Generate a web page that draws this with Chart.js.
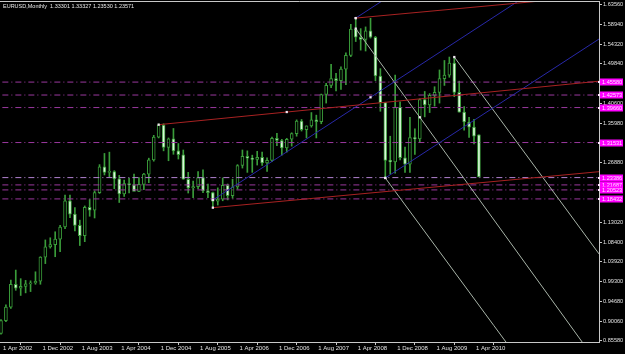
<!DOCTYPE html>
<html>
<head>
<meta charset="utf-8">
<script src="https://cdn.jsdelivr.net/npm/chart.js@4.4.0/dist/chart.umd.min.js"></script>
<style>
  html, body { margin: 0; padding: 0; background: #000; }
  #wrap { width: 625px; height: 354px; }
</style>
</head>
<body>
<div id="wrap"><canvas id="graficoEurusd" width="625" height="354"></canvas></div>
<script>
// ---- data: EURUSD monthly candles, index 0 = Apr 2002 ... 97 = May 2010

const opens = [
  0.8720, 0.9015, 0.9330, 0.9860, 0.9770, 0.9810, 0.9870, 0.9890, 0.9930,
  1.0490, 1.0730, 1.0780, 1.0910, 1.1190, 1.1800, 1.1490, 1.1230, 1.0990, 1.1650, 1.1580, 1.1990,
  1.2590, 1.2460, 1.2480, 1.2310, 1.1960, 1.2200, 1.2170, 1.2020, 1.2180, 1.2420, 1.2750, 1.3280,
  1.3560, 1.3040, 1.3240, 1.2960, 1.2870, 1.2300, 1.2100, 1.2130, 1.2340, 1.2030, 1.1990, 1.1790,
  1.1840, 1.2160, 1.1920, 1.2120, 1.2620, 1.2830, 1.2790, 1.2760, 1.2810, 1.2680, 1.2740, 1.3250,
  1.3200, 1.3030, 1.3230, 1.3360, 1.3650, 1.3450, 1.3540, 1.3680, 1.3640, 1.4270, 1.4480, 1.4640,
  1.4590, 1.4860, 1.5180, 1.5790, 1.5600, 1.5550, 1.5750, 1.5600, 1.4700, 1.4080, 1.2740, 1.2700,
  1.3970, 1.2800, 1.2650, 1.3270, 1.3240, 1.4150, 1.4030, 1.4250, 1.4320, 1.4640, 1.4720, 1.5000,
  1.4320, 1.3860, 1.3630, 1.3510, 1.3330
];
const highs = [
  0.9040, 0.9380, 0.9960, 1.0190, 0.9990, 0.9950, 0.9940, 1.0150, 1.0500,
  1.0890, 1.0940, 1.1080, 1.1230, 1.1930, 1.1930, 1.1640, 1.1350, 1.1680, 1.1830, 1.2030, 1.2640,
  1.2900, 1.2930, 1.2500, 1.2390, 1.2280, 1.2320, 1.2420, 1.2340, 1.2440, 1.2790, 1.3320, 1.3585,
  1.3590, 1.3260, 1.3480, 1.3130, 1.2980, 1.2460, 1.2260, 1.2480, 1.2520, 1.2190, 1.2000, 1.2100,
  1.2330, 1.2190, 1.2300, 1.2640, 1.2980, 1.2960, 1.2860, 1.2950, 1.2930, 1.2800, 1.3280, 1.3370,
  1.3230, 1.3250, 1.3380, 1.3680, 1.3690, 1.3540, 1.3850, 1.3790, 1.4280, 1.4530, 1.4970, 1.4760,
  1.4910, 1.5240, 1.5900, 1.6045, 1.5800, 1.5840, 1.6040, 1.5620, 1.4870, 1.4090, 1.3300, 1.4720,
  1.4100, 1.3050, 1.3740, 1.3470, 1.4170, 1.4340, 1.4290, 1.4450, 1.4840, 1.5060, 1.5140, 1.5140,
  1.4580, 1.3990, 1.3740, 1.3690, 1.3333
];
const lows = [
  0.8700, 0.8990, 0.9300, 0.9720, 0.9600, 0.9660, 0.9690, 0.9860, 0.9860,
  1.0340, 1.0700, 1.0500, 1.0620, 1.1150, 1.1410, 1.1100, 1.0760, 1.0850, 1.1440, 1.1400, 1.1970,
  1.2400, 1.2360, 1.2080, 1.1760, 1.1900, 1.1980, 1.2030, 1.2010, 1.2060, 1.2220, 1.2720, 1.3260,
  1.2960, 1.2730, 1.2880, 1.2770, 1.2300, 1.1980, 1.1870, 1.2080, 1.1990, 1.1870, 1.1640, 1.1700,
  1.1800, 1.1820, 1.1860, 1.2070, 1.2560, 1.2460, 1.2460, 1.2630, 1.2620, 1.2480, 1.2710, 1.3080,
  1.2860, 1.2930, 1.3070, 1.3300, 1.3420, 1.3260, 1.3510, 1.3260, 1.3590, 1.4070, 1.4430, 1.4350,
  1.4390, 1.4500, 1.5150, 1.5500, 1.5300, 1.5280, 1.5580, 1.4590, 1.3880, 1.2330, 1.2420, 1.2440,
  1.2750, 1.2460, 1.2460, 1.2880, 1.3160, 1.3750, 1.3850, 1.4000, 1.4070, 1.4480, 1.4670, 1.4220,
  1.3860, 1.3440, 1.3270, 1.3120, 1.2353
];
const closes = [
  0.9015, 0.9330, 0.9860, 0.9770, 0.9810, 0.9870, 0.9890, 0.9930, 1.0490,
  1.0730, 1.0780, 1.0910, 1.1190, 1.1800, 1.1490, 1.1230, 1.0990, 1.1650, 1.1580, 1.1990, 1.2590,
  1.2460, 1.2480, 1.2310, 1.1960, 1.2200, 1.2170, 1.2020, 1.2180, 1.2420, 1.2750, 1.3280, 1.3560,
  1.3040, 1.3240, 1.2960, 1.2870, 1.2300, 1.2100, 1.2130, 1.2340, 1.2030, 1.1990, 1.1790, 1.1840,
  1.2160, 1.1920, 1.2120, 1.2620, 1.2830, 1.2790, 1.2760, 1.2810, 1.2680, 1.2740, 1.3250, 1.3200,
  1.3030, 1.3230, 1.3360, 1.3650, 1.3450, 1.3540, 1.3680, 1.3640, 1.4270, 1.4480, 1.4640, 1.4590,
  1.4860, 1.5180, 1.5790, 1.5600, 1.5550, 1.5750, 1.5600, 1.4700, 1.4080, 1.2740, 1.2700, 1.3970,
  1.2800, 1.2650, 1.3270, 1.3240, 1.4150, 1.4030, 1.4250, 1.4320, 1.4640, 1.4720, 1.5000, 1.4320,
  1.3860, 1.3630, 1.3510, 1.3300, 1.2357
];

// x axis labels (month index where they sit)
const xTickIndex = [0, 8, 16, 24, 32, 40, 48, 56, 64, 72, 80, 88, 96];
const xTickLabels = ['1 Apr 2002', '1 Dec 2002', '1 Aug 2003', '1 Apr 2004', '1 Dec 2004', '1 Aug 2005',
  '1 Apr 2006', '1 Dec 2006', '1 Aug 2007', '1 Apr 2008', '1 Dec 2008', '1 Aug 2009', '1 Apr 2010'];

// price scale labels
const yTickValues = [1.63560, 1.58940, 1.54320, 1.49840, 1.40600, 1.35980, 1.26880,
  1.13020, 1.08400, 1.03920, 0.99300, 0.94680, 0.90060, 0.85580];

// horizontal lines (dash dot, magenta)
const levels = [1.45580, 1.42573, 1.39660, 1.31531, 1.23386, 1.21687, 1.20523, 1.18432];

// trend lines: two anchors [month index, price]
const redLines = [
  [[72, 1.6045], [108, 1.6426]],
  [[32, 1.3568], [58, 1.3862]],
  [[43, 1.1640], [121.4, 1.2476]]
];
const blueLines = [
  [[43, 1.1818], [75, 1.4204]],
  [[78, 1.2330], [121.4, 1.5560]],
  [[72, 1.6045], [80, 1.6640]]
];
const whiteLines = [
  [[72, 1.5800], [85, 1.3740]],
  [[78, 1.2330], [100, 0.8905]],
  [[92, 1.5140], [121.4, 1.0562]]
];

const titleText = 'EURUSD,Monthly  1.33301 1.33327 1.23530 1.23571';


// ---- helpers

const fonte = "'Liberation Sans', sans-serif";
const green = '#3a9c3a';

// extend a trend line past its second anchor (MT4 ray)
function ray(a, b) {
    const slope = (b[1] - a[1]) / (b[0] - a[0]);
    const xEnd = 140;
    return [
        { x: a[0], y: a[1] },
        { x: b[0], y: b[1] },
        { x: xEnd, y: a[1] + slope * (xEnd - a[0]) }
    ];
}

function trendDataset(line, color, markSecond) {
    return {
        type: 'line',
        data: ray(line[0], line[1]),
        borderColor: color,
        borderWidth: 1,
        pointStyle: 'rect',
        pointRadius: [1.6, markSecond ? 1.6 : 0, 0],
        pointHoverRadius: 0,
        pointBackgroundColor: '#f2e6f2',
        pointBorderWidth: 0,
        order: 0
    };
}


// ---- datasets

const datasets = [];

// wicks
datasets.push({
    type: 'bar',
    data: opens.map((o, i) => ({ x: i, y: [lows[i], highs[i]] })),
    backgroundColor: green,
    barThickness: 1,
    grouped: false,
    order: 3
});

// bodies
datasets.push({
    type: 'bar',
    data: opens.map((o, i) => ({ x: i, y: [o, closes[i]] })),
    backgroundColor: opens.map((o, i) => closes[i] < o ? '#d8f8d8' : '#000000'),
    borderColor: green,
    borderWidth: 1,
    borderSkipped: false,
    barThickness: 3,
    minBarLength: 1,
    grouped: false,
    order: 2
});

levels.forEach((lvl, i) => {
    datasets.push({
        type: 'line',
        data: [{ x: -5, y: lvl }, { x: 140, y: lvl }],
        borderColor: i === 4 ? '#b282d0' : '#9a389e',
        borderWidth: 1,
        borderDash: [6, 3, 1, 3],
        pointRadius: 0,
        pointHoverRadius: 0,
        order: 1
    });
});

redLines.forEach((l, i) => datasets.push(trendDataset(l, '#a82222', i === 1)));
blueLines.forEach((l, i) => datasets.push(trendDataset(l, '#2828a8', i === 0)));
whiteLines.forEach((l, i) => datasets.push(trendDataset(l, '#a8b4a8', i === 0)));


// ---- plugins: black background, frame, title and magenta price boxes

const fundoPreto = {
    id: 'fundoPreto',
    beforeDraw(chart) {
        const c = chart.ctx;
        c.save();
        c.fillStyle = '#000';
        c.fillRect(0, 0, chart.width, chart.height);
        c.restore();
    }
};

const extras = {
    id: 'extras',
    afterDraw(chart) {
        const c = chart.ctx;
        const area = chart.chartArea;
        const yScale = chart.scales.y;
        c.save();

        // top frame line
        c.strokeStyle = '#c8c8c8';
        c.lineWidth = 1;
        c.beginPath();
        c.moveTo(0, area.top + 0.5);
        c.lineTo(area.right, area.top + 0.5);
        c.stroke();

        // title
        c.fillStyle = '#e8e8e8';
        c.font = '5.5px ' + fonte;
        c.textBaseline = 'middle';
        c.textAlign = 'left';
        c.fillText(titleText, 3, 6.5);

        // price boxes of the horizontal lines
        c.font = '5.6px ' + fonte;
        levels.forEach(lvl => {
            const py = Math.round(yScale.getPixelForValue(lvl));
            c.fillStyle = '#ff00ff';
            c.fillRect(area.right + 1, py - 3.5, 23, 7);
            c.fillStyle = '#ffe4ff';
            c.fillRect(area.right - 1, py - 1, 2, 2);
            c.fillText(lvl.toFixed(5), area.right + 3, py + 0.5);
        });
        c.restore();
    }
};


// ---- chart

const ctx = document.getElementById('graficoEurusd').getContext('2d');
let graficoEurusd = new Chart(ctx, {
    data: { datasets: datasets },
    options: {
        responsive: false,
        animation: false,
        devicePixelRatio: 1,
        events: [],
        layout: { autoPadding: false, padding: { top: 1, left: 0, right: 0, bottom: 0 } },
        plugins: {
            legend: { display: false },
            tooltip: { enabled: false }
        },
        scales: {
            x: {
                type: 'linear',
                min: -0.2,
                max: 121.37,
                offset: false,
                grid: { drawOnChartArea: false, drawTicks: true, tickLength: 3, color: '#c8c8c8' },
                border: { display: true, color: '#c8c8c8' },
                ticks: {
                    autoSkip: false,
                    maxRotation: 0,
                    align: 'start',
                    labelOffset: 2,
                    padding: 0,
                    color: '#e0e0e0',
                    font: { family: fonte, size: 6 },
                    callback: (v) => {
                        const k = xTickIndex.indexOf(v);
                        return k >= 0 ? xTickLabels[k] : '';
                    }
                },
                afterBuildTicks: (scale) => {
                    scale.ticks = xTickIndex.map(v => ({ value: v }));
                },
                afterFit: (scale) => {
                    scale.height = 12;
                    scale.paddingLeft = 0;
                    scale.paddingRight = 0;
                }
            },
            y: {
                type: 'linear',
                position: 'right',
                min: 0.85185,
                max: 1.64420,
                grid: { drawOnChartArea: false, drawTicks: true, tickLength: 3, color: '#c8c8c8' },
                border: { display: true, color: '#c8c8c8' },
                ticks: {
                    padding: 1,
                    color: '#e0e0e0',
                    font: { family: fonte, size: 5.6 },
                    callback: (v) => v.toFixed(5)
                },
                afterBuildTicks: (scale) => {
                    scale.ticks = yTickValues.map(v => ({ value: v }));
                },
                afterFit: (scale) => {
                    scale.width = 26;
                    scale.paddingTop = 0;
                    scale.paddingBottom = 0;
                }
            }
        }
    },
    plugins: [fundoPreto, extras]
});
</script>
</body>
</html>
